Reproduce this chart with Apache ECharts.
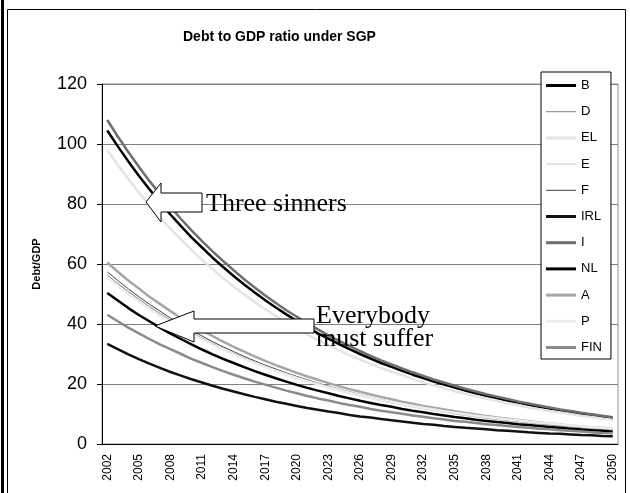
<!DOCTYPE html>
<html>
<head>
<meta charset="utf-8">
<script src="https://cdn.jsdelivr.net/npm/echarts@6/dist/echarts.min.js"></script>
<style>
  body { margin: 0; background: #fff; }
  #chart { width: 630px; height: 493px; }
</style>
</head>
<body>
<div id="chart"></div>
<script>
const years = [];
for (let y = 2002; y <= 2050; y++) years.push(String(y));

const names = ['B', 'D', 'EL', 'E', 'F', 'IRL', 'I', 'NL', 'A', 'P', 'FIN'];

const B = [104.5,99.2,94.2,89.4,84.9,80.6,76.5,72.6,68.9,65.5,62.1,59.0,56.0,53.2,50.5,47.9,45.5,43.2,41.0,38.9,36.9,35.1,33.3,31.6,30.0,28.5,27.0,25.7,24.4,23.1,22.0,20.8,19.8,18.8,17.8,16.9,16.1,15.3,14.5,13.8,13.1,12.4,11.8,11.2,10.6,10.1,9.6,9.1,8.6];
const D = [56.4,53.5,50.8,48.3,45.8,43.5,41.3,39.2,37.2,35.3,33.5,31.8,30.2,28.7,27.2,25.9,24.5,23.3,22.1,21.0,19.9,18.9,18.0,17.1,16.2,15.4,14.6,13.9,13.2,12.5,11.9,11.3,10.7,10.1,9.6,9.1,8.7,8.2,7.8,7.4,7.0,6.7,6.4,6.0,5.7,5.4,5.2,4.9,4.6];
const EL = [98.0,93.0,88.3,83.8,79.6,75.6,71.7,68.1,64.7,61.4,58.3,55.3,52.5,49.9,47.3,44.9,42.7,40.5,38.4,36.5,34.6,32.9,31.2,29.6,28.1,26.7,25.4,24.1,22.9,21.7,20.6,19.6,18.6,17.6,16.7,15.9,15.1,14.3,13.6,12.9,12.2,11.6,11.0,10.5,10.0,9.4,9.0,8.5,8.1];
const E = [55.7,52.9,50.2,47.7,45.2,43.0,40.8,38.7,36.7,34.9,33.1,31.4,29.8,28.3,26.9,25.5,24.2,23.0,21.8,20.7,19.7,18.7,17.7,16.8,16.0,15.2,14.4,13.7,13.0,12.3,11.7,11.1,10.6,10.0,9.5,9.0,8.6,8.1,7.7,7.3,7.0,6.6,6.3,6.0,5.7,5.4,5.1,4.8,4.6];
const F = [57.4,54.5,51.7,49.1,46.6,44.3,42.0,39.9,37.9,36.0,34.1,32.4,30.8,29.2,27.7,26.3,25.0,23.7,22.5,21.4,20.3,19.3,18.3,17.4,16.5,15.6,14.9,14.1,13.4,12.7,12.1,11.5,10.9,10.3,9.8,9.3,8.8,8.4,8.0,7.6,7.2,6.8,6.5,6.1,5.8,5.5,5.3,5.0,4.7];
const IRL = [33.4,31.6,29.9,28.3,26.8,25.4,24.0,22.8,21.6,20.5,19.4,18.4,17.5,16.6,15.7,14.9,14.1,13.4,12.7,12.0,11.4,10.8,10.3,9.7,9.2,8.8,8.3,7.9,7.5,7.1,6.7,6.4,6.0,5.7,5.4,5.2,4.9,4.6,4.4,4.2,3.9,3.7,3.5,3.4,3.2,3.0,2.9,2.7,2.6];
const I = [108.0,102.5,97.3,92.4,87.7,83.3,79.1,75.0,71.2,67.6,64.2,61.0,57.9,54.9,52.2,49.5,47.0,44.6,42.4,40.2,38.2,36.2,34.4,32.7,31.0,29.4,27.9,26.5,25.2,23.9,22.7,21.5,20.5,19.4,18.4,17.5,16.6,15.8,15.0,14.2,13.5,12.8,12.2,11.5,11.0,10.4,9.9,9.4,8.9];
const NL = [50.3,47.8,45.3,43.0,40.9,38.8,36.8,35.0,33.2,31.5,29.9,28.4,27.0,25.6,24.3,23.1,21.9,20.8,19.7,18.7,17.8,16.9,16.0,15.2,14.4,13.7,13.0,12.4,11.7,11.1,10.6,10.0,9.5,9.0,8.6,8.1,7.7,7.3,7.0,6.6,6.3,6.0,5.7,5.4,5.1,4.8,4.6,4.4,4.1];
const A = [60.5,57.4,54.5,51.8,49.1,46.7,44.3,42.0,39.9,37.9,36.0,34.1,32.4,30.8,29.2,27.7,26.3,25.0,23.7,22.5,21.4,20.3,19.3,18.3,17.4,16.5,15.7,14.9,14.1,13.4,12.7,12.1,11.5,10.9,10.3,9.8,9.3,8.8,8.4,8.0,7.6,7.2,6.8,6.5,6.1,5.8,5.5,5.3,5.0];
const P = [55.5,52.7,50.0,47.5,45.1,42.8,40.7,38.6,36.7,34.9,33.1,31.5,29.9,28.4,27.0,25.7,24.4,23.2,22.0,20.9,19.9,18.9,18.0,17.1,16.3,15.5,14.7,14.0,13.3,12.7,12.1,11.5,10.9,10.4,9.9,9.4,9.0,8.6,8.2,7.8,7.4,7.1,6.8,6.5,6.2,5.9,5.6,5.4,5.2];
const FIN = [43.1,40.9,38.8,36.9,35.0,33.2,31.6,30.0,28.4,27.0,25.6,24.3,23.1,21.9,20.8,19.8,18.8,17.8,16.9,16.0,15.2,14.5,13.7,13.0,12.4,11.7,11.1,10.6,10.1,9.5,9.1,8.6,8.2,7.7,7.4,7.0,6.6,6.3,6.0,5.7,5.4,5.1,4.9,4.6,4.4,4.2,3.9,3.7,3.6];

const values = [B, D, EL, E, F, IRL, I, NL, A, P, FIN];
const colors = ['#000000', '#808080', '#e4e4e4', '#c8c8c8', '#404040', '#111111', '#6e6e6e', '#000000', '#a6a6a6', '#ececec', '#8a8a8a'];
const widths = [2.5, 1, 2.5, 1, 1, 2.5, 2.5, 2.5, 2.5, 2.5, 2.5];

const yTicks = [0, 20, 40, 60, 80, 100, 120];

const sans = '"Liberation Sans", Arial, sans-serif';
const serif = '"Liberation Serif", "Times New Roman", serif';

const chart = echarts.init(document.getElementById('chart'));

const option = {
  animation: false,
  backgroundColor: '#fff',
  title: {
    text: 'Debt to GDP ratio under SGP',
    left: 178,
    top: 25,
    textStyle: { fontFamily: sans, fontSize: 14, fontWeight: 'bold', color: '#000' }
  },
  legend: {
    data: names.map((n, i) => ({
      name: n,
      icon: widths[i] > 2 ? 'path://M0,0H30V3H0Z' : 'path://M0,0H30V1H0Z'
    })),
    orient: 'vertical',
    left: 541,
    top: 72,
    padding: [7, 9, 5, 5],
    itemWidth: 30,
    itemHeight: 14,
    itemGap: 13.2,
    backgroundColor: '#fff',
    borderColor: '#000',
    borderWidth: 1,
    textStyle: { fontFamily: sans, fontSize: 13, color: '#000' }
  },
  grid: { left: 102, right: 12, top: 84, bottom: 49, show: true, borderColor: '#909090', borderWidth: 1 },
  xAxis: {
    type: 'category',
    data: years,
    boundaryGap: true,
    axisLine: { lineStyle: { color: '#000', width: 1 } },
    axisTick: { interval: 0, length: 5, lineStyle: { color: '#000' } },
    axisLabel: { interval: 2, rotate: 90, margin: 10, fontFamily: sans, fontSize: 12, color: '#000' },
    splitLine: { show: false }
  },
  yAxis: {
    type: 'value',
    min: yTicks[0],
    max: yTicks[yTicks.length - 1],
    interval: 20,
    name: 'Debt/GDP',
    nameLocation: 'middle',
    nameGap: 60,
    nameTextStyle: { fontFamily: sans, fontSize: 11, fontWeight: 'bold', color: '#000' },
    axisLine: { show: true, lineStyle: { color: '#000', width: 1 } },
    axisTick: { show: true, length: 5, lineStyle: { color: '#000' } },
    axisLabel: { margin: 15, fontFamily: sans, fontSize: 18, color: '#000' },
    splitLine: { lineStyle: { color: '#808080', width: 1 } }
  },
  series: names.map((n, i) => ({
    name: n,
    type: 'line',
    data: values[i],
    symbol: 'none',
    smooth: false,
    color: colors[i],
    lineStyle: { color: colors[i], width: widths[i] }
  })),
  graphic: [
    { type: 'rect', shape: { x: 1, y: 0, width: 3, height: 493 }, style: { fill: '#000' }, z: 100 },
    { type: 'rect', shape: { x: 7.5, y: 9.5, width: 618, height: 490 }, style: { fill: 'none', stroke: '#000', lineWidth: 1 }, z: 100 },
    {
      type: 'polygon', z: 100,
      shape: { points: [[146, 202], [161, 183], [161, 193], [202, 193], [202, 212], [161, 212], [161, 222]] },
      style: { fill: '#fff', stroke: '#000', lineWidth: 1 }
    },
    {
      type: 'polygon', z: 100,
      shape: { points: [[155, 326], [194, 311], [194, 319], [314, 319], [314, 333], [194, 333], [194, 342]] },
      style: { fill: '#fff', stroke: '#000', lineWidth: 1 }
    },
    { type: 'text', x: 206, y: 204, z: 100, style: { text: 'Three sinners', font: '26px ' + serif, fill: '#000', verticalAlign: 'middle' } },
    { type: 'text', x: 316, y: 316, z: 100, style: { text: 'Everybody', font: '26px ' + serif, fill: '#000', verticalAlign: 'middle' } },
    { type: 'text', x: 316, y: 339, z: 100, style: { text: 'must suffer', font: '26px ' + serif, fill: '#000', verticalAlign: 'middle' } }
  ]
};

chart.setOption(option);
</script>
</body>
</html>
